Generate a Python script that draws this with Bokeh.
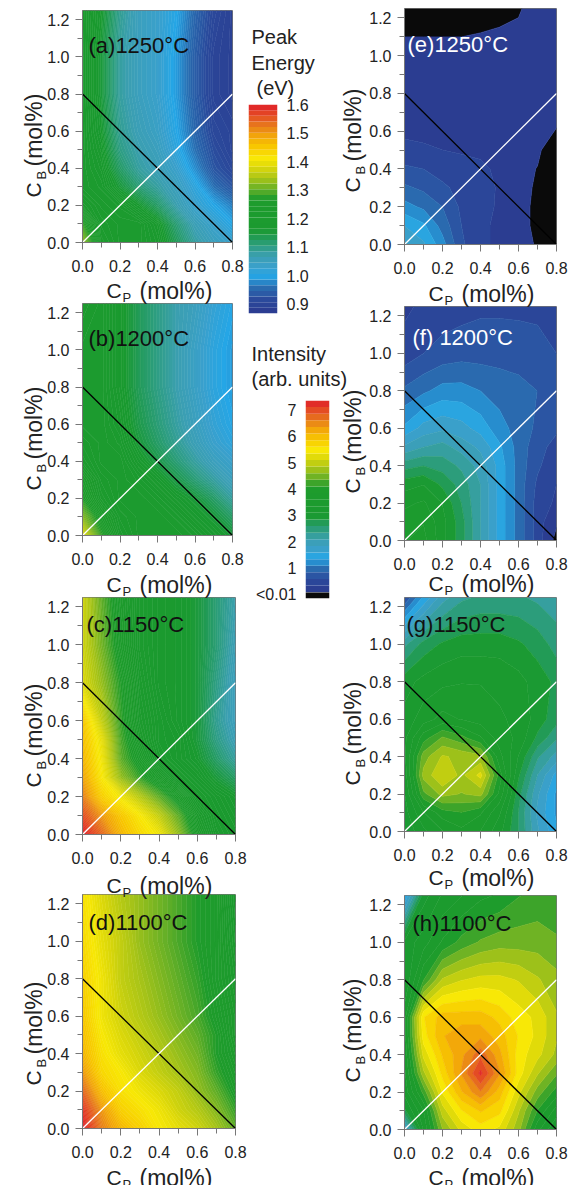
from bokeh.plotting import figure
from bokeh.layouts import row, column
from bokeh.models import Label, FixedTicker, NumeralTickFormatter
from bokeh.embed import file_html
from bokeh.resources import INLINE

cp = [0.0, 0.1, 0.2, 0.3, 0.4, 0.5, 0.6, 0.7, 0.8]
cb = [0.0, 0.1, 0.2, 0.3, 0.4, 0.5, 0.6, 0.8, 1.0, 1.25]

energy_a = [
    [1.33, 1.22, 1.20, 1.20, 1.18, 1.13, 1.08, 1.05, 1.03],
    [1.28, 1.21, 1.20, 1.20, 1.17, 1.11, 1.06, 1.03, 1.00],
    [1.22, 1.20, 1.19, 1.16, 1.12, 1.07, 1.03, 1.00, 0.97],
    [1.20, 1.19, 1.15, 1.11, 1.08, 1.05, 1.01, 0.96, 0.93],
    [1.20, 1.18, 1.12, 1.08, 1.06, 1.03, 0.98, 0.93, 0.91],
    [1.20, 1.17, 1.10, 1.07, 1.05, 1.01, 0.96, 0.92, 0.90],
    [1.20, 1.16, 1.09, 1.06, 1.04, 1.00, 0.95, 0.91, 0.90],
    [1.20, 1.15, 1.08, 1.05, 1.03, 0.99, 0.94, 0.90, 0.89],
    [1.20, 1.15, 1.08, 1.05, 1.03, 0.99, 0.94, 0.90, 0.89],
    [1.20, 1.16, 1.09, 1.05, 1.03, 1.00, 0.95, 0.91, 0.89],
]
energy_b = [
    [1.38, 1.28, 1.22, 1.20, 1.20, 1.20, 1.19, 1.17, 1.15],
    [1.32, 1.25, 1.21, 1.20, 1.20, 1.19, 1.17, 1.15, 1.12],
    [1.27, 1.22, 1.20, 1.20, 1.19, 1.17, 1.15, 1.12, 1.08],
    [1.25, 1.21, 1.20, 1.19, 1.17, 1.14, 1.11, 1.08, 1.05],
    [1.22, 1.20, 1.20, 1.17, 1.14, 1.11, 1.08, 1.05, 1.03],
    [1.21, 1.20, 1.19, 1.15, 1.12, 1.09, 1.06, 1.03, 1.01],
    [1.20, 1.20, 1.18, 1.14, 1.11, 1.08, 1.05, 1.02, 1.00],
    [1.20, 1.20, 1.17, 1.13, 1.10, 1.07, 1.04, 1.01, 0.99],
    [1.20, 1.20, 1.17, 1.13, 1.10, 1.07, 1.04, 1.01, 0.99],
    [1.21, 1.20, 1.17, 1.13, 1.10, 1.07, 1.05, 1.02, 1.00],
]
energy_c = [
    [1.60, 1.54, 1.47, 1.43, 1.40, 1.33, 1.25, 1.20, 1.18],
    [1.56, 1.50, 1.45, 1.41, 1.36, 1.30, 1.23, 1.19, 1.17],
    [1.52, 1.44, 1.40, 1.35, 1.30, 1.25, 1.20, 1.18, 1.16],
    [1.49, 1.41, 1.33, 1.28, 1.24, 1.20, 1.18, 1.15, 1.12],
    [1.47, 1.40, 1.30, 1.25, 1.20, 1.18, 1.16, 1.12, 1.08],
    [1.46, 1.39, 1.29, 1.23, 1.19, 1.18, 1.15, 1.10, 1.06],
    [1.45, 1.36, 1.28, 1.22, 1.19, 1.17, 1.15, 1.09, 1.05],
    [1.38, 1.33, 1.27, 1.21, 1.18, 1.17, 1.15, 1.10, 1.05],
    [1.37, 1.31, 1.25, 1.20, 1.18, 1.17, 1.15, 1.11, 1.06],
    [1.37, 1.30, 1.24, 1.20, 1.18, 1.17, 1.15, 1.11, 1.07],
]
energy_d = [
    [1.60, 1.52, 1.47, 1.44, 1.41, 1.39, 1.37, 1.34, 1.30],
    [1.58, 1.50, 1.44, 1.42, 1.40, 1.37, 1.35, 1.32, 1.28],
    [1.54, 1.46, 1.42, 1.40, 1.38, 1.36, 1.33, 1.30, 1.26],
    [1.50, 1.43, 1.41, 1.38, 1.36, 1.34, 1.32, 1.28, 1.25],
    [1.47, 1.42, 1.39, 1.37, 1.35, 1.33, 1.31, 1.27, 1.24],
    [1.46, 1.41, 1.38, 1.36, 1.34, 1.32, 1.30, 1.27, 1.23],
    [1.45, 1.40, 1.37, 1.35, 1.33, 1.31, 1.29, 1.26, 1.23],
    [1.44, 1.40, 1.36, 1.34, 1.32, 1.30, 1.28, 1.25, 1.22],
    [1.43, 1.39, 1.36, 1.33, 1.31, 1.29, 1.27, 1.25, 1.21],
    [1.42, 1.38, 1.35, 1.33, 1.31, 1.29, 1.27, 1.25, 1.20],
]
# negative entries mark the below-detection (black) areas
intensity_e = [
    [1.90, 1.65, 1.20, 0.65, 0.38, 0.32, 0.28, -0.06, -1.0],
    [1.60, 1.40, 1.00, 0.60, 0.38, 0.32, 0.28, -0.17, -1.0],
    [1.20, 1.05, 0.85, 0.55, 0.40, 0.33, 0.28, -0.17, -1.0],
    [0.90, 0.80, 0.65, 0.52, 0.42, 0.33, 0.28, -0.10, -1.0],
    [0.65, 0.60, 0.50, 0.42, 0.38, 0.32, 0.28, -0.02, -1.0],
    [0.42, 0.38, 0.35, 0.33, 0.32, 0.30, 0.28, 0.15, -0.55],
    [0.30, 0.30, 0.30, 0.30, 0.30, 0.30, 0.28, 0.22, -0.02],
    [0.30, 0.30, 0.30, 0.30, 0.30, 0.30, 0.30, 0.30, 0.30],
    [0.30, 0.30, 0.30, 0.30, 0.30, 0.30, 0.30, 0.30, 0.30],
    [-0.43, -0.43, -0.43, -0.43, -0.30, -0.18, -0.06, 0.30, 0.30],
]
intensity_f = [
    [3.6, 3.7, 3.2, 2.7, 2.1, 1.5, 1.0, 0.50, -0.11],
    [3.5, 3.6, 3.2, 2.7, 2.1, 1.5, 1.0, 0.50, 0.06],
    [3.3, 3.4, 3.1, 2.6, 2.1, 1.5, 1.0, 0.50, 0.30],
    [3.0, 3.1, 2.8, 2.5, 2.1, 1.5, 1.0, 0.55, 0.35],
    [2.5, 2.6, 2.5, 2.3, 2.0, 1.5, 1.0, 0.65, 0.40],
    [1.9, 2.1, 2.2, 2.0, 1.8, 1.4, 1.0, 0.70, 0.50],
    [1.4, 1.7, 1.8, 1.7, 1.5, 1.2, 1.0, 0.80, 0.65],
    [0.9, 1.05, 1.2, 1.2, 1.1, 1.0, 0.95, 0.85, 0.70],
    [0.45, 0.6, 0.7, 0.75, 0.75, 0.75, 0.72, 0.68, 0.60],
    [0.30, 0.4, 0.45, 0.5, 0.55, 0.55, 0.55, 0.55, 0.55],
]
intensity_g = [
    [2.9, 3.3, 3.6, 3.8, 3.6, 3.2, 2.6, 1.9, 1.4],
    [3.0, 3.6, 4.0, 4.1, 3.9, 3.4, 2.6, 1.8, 1.3],
    [3.1, 4.3, 4.7, 4.6, 4.7, 3.8, 2.7, 1.9, 1.3],
    [3.2, 4.7, 5.1, 4.8, 5.2, 4.0, 2.9, 2.1, 1.5],
    [3.3, 4.5, 4.9, 4.8, 4.7, 3.7, 3.1, 2.4, 2.0],
    [3.3, 4.0, 4.4, 4.2, 3.9, 3.5, 3.3, 2.8, 2.4],
    [3.2, 3.5, 3.7, 3.6, 3.5, 3.4, 3.3, 3.0, 2.7],
    [3.0, 3.2, 3.3, 3.35, 3.35, 3.3, 3.2, 3.0, 2.8],
    [2.3, 2.7, 2.9, 3.0, 3.0, 3.0, 2.9, 2.75, 2.5],
    [0.6, 1.4, 2.0, 2.3, 2.4, 2.4, 2.4, 2.3, 2.2],
]
intensity_h = [
    [1.6, 3.4, 4.6, 5.2, 5.5, 5.3, 4.7, 3.7, 3.1],
    [2.8, 3.6, 5.0, 5.6, 5.9, 5.7, 4.9, 4.1, 3.5],
    [3.2, 4.2, 5.4, 6.1, 6.6, 6.0, 5.2, 4.5, 4.0],
    [3.3, 4.8, 5.7, 6.4, 7.2, 6.4, 5.5, 4.9, 4.4],
    [3.4, 5.2, 5.9, 6.3, 6.8, 6.2, 5.5, 5.2, 4.8],
    [3.5, 5.5, 6.1, 6.3, 6.3, 6.0, 5.6, 5.3, 4.9],
    [3.5, 5.6, 6.0, 6.0, 6.0, 5.8, 5.5, 5.3, 4.9],
    [3.1, 4.1, 4.9, 5.1, 5.2, 5.2, 5.1, 4.9, 4.7],
    [3.2, 3.5, 3.9, 4.2, 4.4, 4.5, 4.5, 4.5, 4.4],
    [1.3, 3.0, 3.4, 3.6, 3.8, 3.9, 4.1, 4.2, 4.2],
]
titles_left = ["(a)1250°C", "(b)1200°C", "(c)1150°C", "(d)1100°C"]
titles_right = ["(e)1250°C", "(f) 1200°C", "(g)1150°C", "(h)1100°C"]
energy_ticks = [0.9, 1.0, 1.1, 1.2, 1.3, 1.4, 1.5, 1.6]
intensity_ticks = [0.01, 1, 2, 3, 4, 5, 6, 7]
mix_line_x, mix_line_y = [0.0, 0.8], [0.8, 0.0]
ratio_line_x, ratio_line_y = [0.0, 0.8], [0.0, 0.8]

# colour ramp, position 0..1 to colour
RAMP = [
    (0.000, "#2b3a8f"), (0.068, "#2b4a9c"), (0.123, "#2a6cb0"), (0.180, "#25a6e6"),
    (0.221, "#3aa0cc"), (0.276, "#3b9fb0"), (0.318, "#2f9e85"), (0.373, "#1f9a4a"),
    (0.400, "#1a9a30"), (0.550, "#1f9c2c"), (0.591, "#5fae28"), (0.646, "#a8c418"),
    (0.700, "#dcd80a"), (0.741, "#f8e806"), (0.796, "#f8c800"), (0.850, "#f2a50a"),
    (0.891, "#e8801a"), (0.932, "#e55a22"), (1.000, "#e01e2a"),
]

def ramp(t):
    t = max(0.0, min(1.0, t))
    for (t0, c0), (t1, c1) in zip(RAMP, RAMP[1:]):
        if t <= t1:
            f = (t - t0) / (t1 - t0)
            a = [int(c0[i:i + 2], 16) for i in (1, 3, 5)]
            b = [int(c1[i:i + 2], 16) for i in (1, 3, 5)]
            return "#%02x%02x%02x" % tuple(round(u + (v - u) * f) for u, v in zip(a, b))
    return RAMP[-1][1]

E0, E1 = 0.867, 1.6
I0, I1 = 0.1, 7.38
FONT = "Liberation Sans"
INK = "#222222"
AXIS = "#777777"
PAGE_H = 1185

def steps(a, b, d):
    n = round((b - a) / d)
    return [a + (b - a) * i / n for i in range(n + 1)]

def bands(lv, a, b):
    return [ramp((0.5 * (u + v) - a) / (b - a)) for u, v in zip(lv, lv[1:])]

energy_levels = steps(E0, E1 + 0.001, 0.005)
energy_colors = bands(energy_levels, E0, E1)
intensity_levels = [-3.0, 0.01] + steps(0.35, I1, 0.25)
intensity_colors = ["#0a0a0a"] + bands([0.01] + intensity_levels[2:], I0, I1)

# a transparent page-sized layer carries every free text
overlay = figure(frame_width=566, frame_height=PAGE_H, x_range=(0, 566), y_range=(PAGE_H, 0),
                 x_axis_location=None, y_axis_location=None,
                 output_backend="svg", toolbar_location=None, frame_align=False,
                 min_border_left=0, min_border_right=0, min_border_top=0, min_border_bottom=0,
                 border_fill_color=None, background_fill_color=None, outline_line_color=None)
overlay.grid.visible = False

def txt(x, y, s, size, color=INK, angle=0):
    overlay.add_layout(Label(x=x, y=y, x_units="canvas", y_units="canvas", text=s,
                             text_font=FONT, text_font_size=f"{size}px", text_color=color,
                             text_baseline="alphabetic", text_align="left", level="overlay",
                             angle=angle, angle_units="deg"))

def panel(z, levels, colors, title, title_xy, title_color, left, right, top, bottom,
          canvas_left, canvas_right, canvas_top, canvas_bottom, ylab_off, ylab_x, xlab_off):
    w, h = right - left, bottom - top
    p = figure(frame_width=w, frame_height=h, x_range=(0, 0.8), y_range=(0, 1.25),
               output_backend="svg", toolbar_location=None, frame_align=False,
               min_border_left=left - canvas_left, min_border_right=canvas_right - right,
               min_border_top=top - canvas_top, min_border_bottom=canvas_bottom - bottom,
               border_fill_color=None, background_fill_color=None)
    p.grid.visible = False
    p.outline_line_color = AXIS
    p.outline_line_width = 1
    p.contour(cp, cb, z, levels, fill_color=colors, line_color=colors + [colors[-1]], line_width=0.8)
    p.line(mix_line_x, mix_line_y, line_color="#000000", line_width=1.3)
    p.line(ratio_line_x, ratio_line_y, line_color="#ffffff", line_width=1.3)
    p.xaxis.ticker = FixedTicker(ticks=[0, 0.2, 0.4, 0.6, 0.8], minor_ticks=cp)
    p.yaxis.ticker = FixedTicker(ticks=[0, 0.2, 0.4, 0.6, 0.8, 1.0, 1.2],
                                 minor_ticks=[0, 0.1, 0.2, 0.3, 0.4, 0.5, 0.6, 0.7, 0.8, 0.9, 1.0, 1.1, 1.2])
    for ax in (p.xaxis[0], p.yaxis[0]):
        ax.formatter = NumeralTickFormatter(format="0.0")
        ax.major_label_text_font = FONT
        ax.major_label_text_font_size = "16px"
        ax.major_label_text_color = INK
        ax.axis_line_color = AXIS
        ax.major_tick_line_color = AXIS
        ax.minor_tick_line_color = AXIS
        ax.major_tick_out = 7
        ax.major_tick_in = 0
        ax.minor_tick_out = 5
        ax.minor_tick_in = 0
    p.xaxis[0].major_label_standoff = 10
    p.yaxis[0].major_label_standoff = 6
    p.yaxis[0].major_label_orientation = "horizontal"
    # titles and composed axis labels, in page pixels
    txt(title_xy[0], title_xy[1], title, 22, title_color)
    by = bottom + xlab_off
    txt(left + 24, by, "C", 21)
    txt(left + 40, by + 7, "P", 13)
    txt(left + 57, by, "(mol%)", 23)
    yb = bottom - ylab_off
    txt(ylab_x, yb, "C", 21, angle=90)
    txt(ylab_x + 8, yb - 18, "B", 13, angle=90)
    txt(ylab_x, yb - 31, "(mol%)", 23, angle=90)
    return p

tops_l, bots_l = [10, 303, 597, 894], [242, 535, 834, 1128]
rights_l = [232, 232, 235, 235]
tops_r, bots_r = [8, 306, 597, 895], [244, 540, 831, 1129]
txy_l = [(88, 45), (88, 338), (86, 624), (88, 922)]
txy_r = [(407, 44), (412, 337), (406, 624), (412, 923)]
yoff_l = [45, 45, 47, 43]
yoff_r = [52, 47, 46, 47]
xoff_l = [48, 49, 51, 49]
xoff_r = [49, 43, 46, 48]

def stack(zs, titles, txy, tops, bots, left, rights, cl, cr, margin_top, yoffs, ylx, xoffs, colors_levels, tcolors, final):
    figs = []
    for i, z in enumerate(zs):
        ct = tops[i] - margin_top[i]
        cb_ = (tops[i + 1] - margin_top[i + 1]) if i < 3 else final
        figs.append(panel(z, colors_levels[0], colors_levels[1], titles[i], txy[i], tcolors[i],
                          left, rights[i], tops[i], bots[i], cl, cr, ct, cb_, yoffs[i], ylx, xoffs[i]))
    return column(*figs, spacing=0)

col1 = stack([energy_a, energy_b, energy_c, energy_d], titles_left, txy_l, tops_l, bots_l, 82,
             rights_l, 0, 248, [10, 2, 2, 2], yoff_l, 33, xoff_l, (energy_levels, energy_colors),
             ["#111111"] * 4, PAGE_H)

col3 = stack([intensity_e, intensity_f, intensity_g, intensity_h], titles_right, txy_r, tops_r, bots_r, 404,
             [556] * 4, 330, 570, [8, 2, 2, 2], yoff_r, 352, xoff_r, (intensity_levels, intensity_colors),
             ["#ffffff", "#ffffff", "#111111", "#111111"], PAGE_H)
col3.margin = (0, 0, 0, -25)

# peak-energy colour bar
bar_levels = steps(E0, E1, 0.02)
b1 = figure(frame_width=29, frame_height=209, x_range=(0, 1), y_range=(E0, E1),
            y_axis_location="right", output_backend="svg", toolbar_location=None, frame_align=False,
            min_border_left=0, min_border_right=78, min_border_top=104, min_border_bottom=17,
            border_fill_color=None, background_fill_color=None, outline_line_color=None)
b1.grid.visible = False
b1.xaxis.visible = False
b1.quad(left=0, right=1, bottom=bar_levels[:-1], top=bar_levels[1:], fill_color=bands(bar_levels, E0, E1), line_color=None)
b1.yaxis.ticker = FixedTicker(ticks=energy_ticks)
b1.yaxis.major_label_overrides = {t: f"{t:.1f}" for t in energy_ticks}
for x, y, s in [(251, 36, "Peak"), (251, 62, "Energy"), (256, 87, "(eV)")]:
    txt(x, y, s, 20)

# intensity colour bar
bar_i = steps(I0, I1, 0.25)
black_low, black_high = [-0.14], [0.09]
b2 = figure(frame_width=24, frame_height=198, x_range=(0, 1), y_range=(-0.14, I1),
            output_backend="svg", toolbar_location=None, frame_align=False,
            min_border_left=57, min_border_right=26, min_border_top=70, min_border_bottom=6,
            border_fill_color=None, background_fill_color=None, outline_line_color=None)
b2.grid.visible = False
b2.xaxis.visible = False
b2.quad(left=0, right=1, bottom=bar_i[:-1], top=bar_i[1:], fill_color=bands(bar_i, I0, I1), line_color=None)
b2.quad(left=0, right=1, bottom=black_low, top=black_high, fill_color="#0a0a0a", line_color=None)
b2.yaxis.ticker = FixedTicker(ticks=intensity_ticks)
b2.yaxis.major_label_overrides = {0.01: "<0.01", 1: "1", 2: "2", 3: "3", 4: "4", 5: "5", 6: "6", 7: "7"}
txt(251, 353, "Intensity", 20)
txt(251, 378, "(arb. units)", 20)
for ax in (b1.yaxis[0], b2.yaxis[0]):
    ax.axis_line_color = None
    ax.major_tick_line_color = None
    ax.minor_tick_line_color = None
    ax.major_tick_out = 0
    ax.major_tick_in = 0
    ax.minor_tick_out = 0
    ax.minor_tick_in = 0
    ax.major_label_text_font = FONT
    ax.major_label_text_font_size = "16px"
    ax.major_label_text_color = INK
    ax.major_label_standoff = 9

col2 = column(b1, b2, spacing=0)
charts = row(col1, col2, col3, spacing=0)
overlay.margin = (-PAGE_H, 0, 0, 0)
page = column(charts, overlay, spacing=0)
open("out.html", "w").write(file_html(page, INLINE))
